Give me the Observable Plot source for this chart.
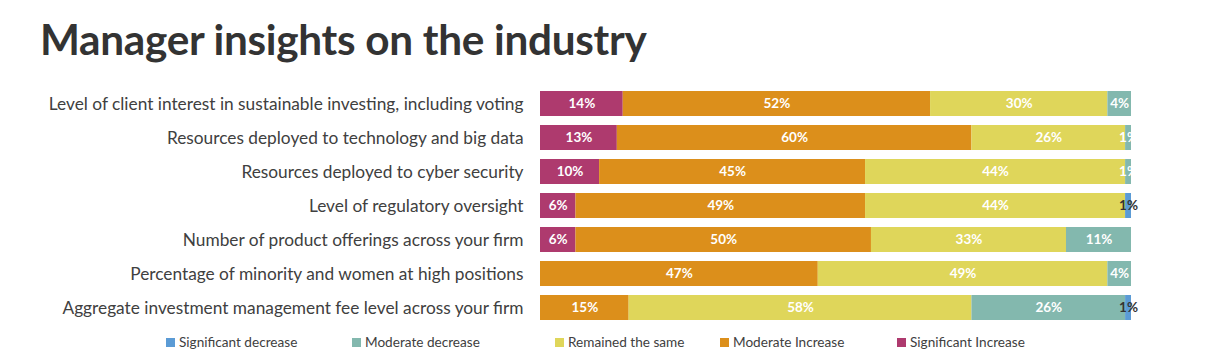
<!DOCTYPE html>
<html>
<head>
<meta charset="utf-8">
<script src="https://cdn.jsdelivr.net/npm/d3@7"></script>
<script src="https://cdn.jsdelivr.net/npm/@observablehq/plot@0.6"></script>
<style>
  body { margin: 0; background: #fff; font-family: Lato, "Open Sans", sans-serif; }
  #title { height: 80px; box-sizing: border-box; padding: 13px 0 0 40px; font-size: 42.3px; font-weight: bold; color: #333; font-family: Lato, sans-serif; letter-spacing: -0.3px; }
  #legend { position: relative; height: 24px; font-size: 13.6px; color: #404040; }
  #legend .item { position: absolute; top: 4px; display: flex; align-items: center; }
  #legend .sw { width: 9px; height: 9px; margin-right: 4px; }
</style>
</head>
<body>
<div id="title">Manager insights on the industry</div>
<div id="chart"></div>
<div id="legend"></div>
<script>
const questions = [
  "Level of client interest in sustainable investing, including voting",
  "Resources deployed to technology and big data",
  "Resources deployed to cyber security",
  "Level of regulatory oversight",
  "Number of product offerings across your firm",
  "Percentage of minority and women at high positions",
  "Aggregate investment management fee level across your firm"
];
const categories = ["Significant Increase", "Moderate Increase", "Remained the same", "Moderate decrease", "Significant decrease"];
const colors = ["#AE3A6E", "#DC8F1B", "#DFD65A", "#83B8AE", "#5B9BD5"];
const significantIncrease = [14, 13, 10, 6, 6, 0, 0];
const moderateIncrease    = [52, 60, 45, 49, 50, 47, 15];
const remainedSame        = [30, 26, 44, 44, 33, 49, 58];
const moderateDecrease    = [4, 1, 1, 0, 11, 4, 26];
const significantDecrease = [0, 0, 0, 1, 0, 0, 1];
const legendOrder = ["Significant decrease", "Moderate decrease", "Remained the same", "Moderate Increase", "Significant Increase"];

const series = [significantIncrease, moderateIncrease, remainedSame, moderateDecrease, significantDecrease];
const rows = [];
questions.forEach((q, i) => {
  categories.forEach((c, j) => {
    const v = series[j][i];
    if (v > 0) rows.push({q, cat: c, value: v});
  });
});

const chart = Plot.plot({
  width: 1228,
  height: 250,
  marginLeft: 540,
  marginRight: 97,
  marginTop: 1,
  marginBottom: 1,
  style: {fontFamily: "Lato, 'Open Sans', sans-serif"},
  x: {domain: [0, 100], axis: null},
  y: {domain: questions, padding: 0.27, label: null},
  color: {domain: categories, range: colors},
  marks: [
    Plot.axisY({tickSize: 0, tickPadding: 17, fontSize: 17.3, color: "#404040", label: null}),
    Plot.barX(rows, Plot.stackX({x: "value", y: "q", fill: "cat", order: categories})),
    Plot.text(rows, Plot.stackX({
      x: "value", y: "q", z: "cat", order: categories,
      text: d => d.value + "%",
      fill: d => d.cat === "Significant decrease" ? "#333" : "white",
      fontSize: 13.5, fontWeight: "bold"
    }))
  ]
});
document.getElementById("chart").appendChild(chart);

const xs = [166, 352, 555, 720, 897];
const legend = document.getElementById("legend");
legendOrder.forEach((c, i) => {
  const it = document.createElement("div");
  it.className = "item";
  it.style.left = xs[i] + "px";
  const sw = document.createElement("div");
  sw.className = "sw";
  sw.style.background = colors[categories.indexOf(c)];
  const t = document.createElement("span");
  t.textContent = c;
  it.appendChild(sw); it.appendChild(t);
  legend.appendChild(it);
});
</script>
</body>
</html>
